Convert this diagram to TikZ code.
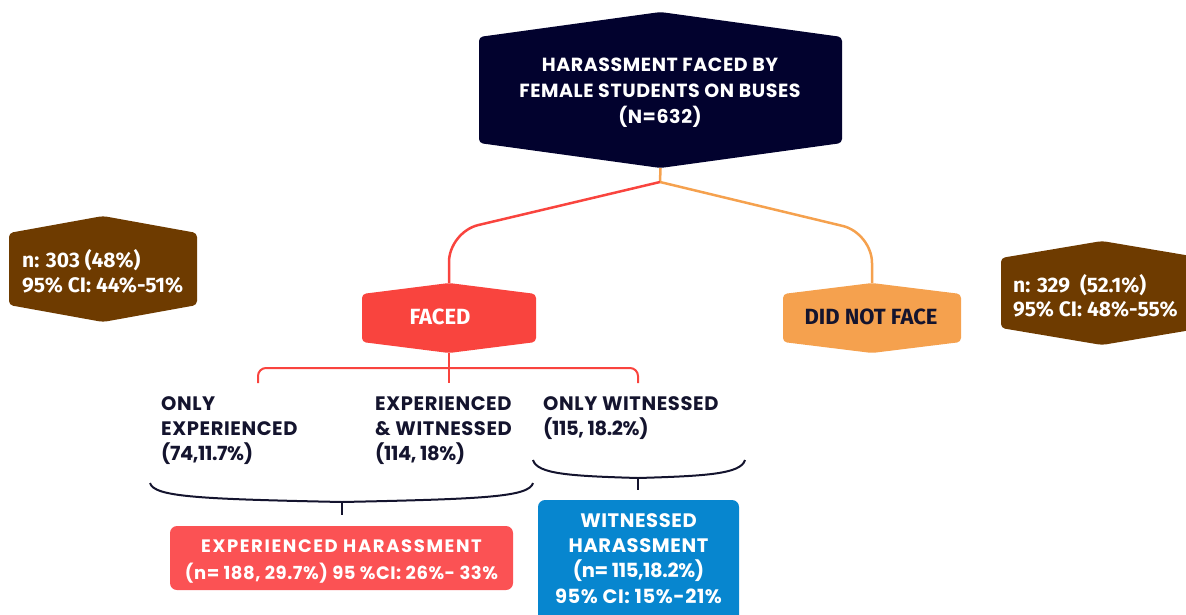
\documentclass[tikz,border=0pt]{standalone}
\usepackage{fontspec}
\setmainfont{Poppins}[LetterSpace=3]
\newfontfamily\firasans{Fira Sans}
\newcommand{\tightnum}{\addfontfeature{LetterSpace=-2}}
\definecolor{hexnavy}{HTML}{02022E}
\definecolor{inkdark}{HTML}{14142E}
\definecolor{brownbox}{HTML}{6E3B00}
\definecolor{facedred}{HTML}{F9443E}
\definecolor{orangeline}{HTML}{F5A14E}
\definecolor{witblue}{HTML}{0786CF}
\definecolor{expred}{HTML}{FB5254}
% name, x, y, half width, half side, slant, colour
\newcommand{\drawhex}[7]{%
  \fill[#7,rounded corners=4pt] (#2,#3-#5-#6) -- (#2+#4,#3-#5) -- (#2+#4,#3+#5)
    -- (#2,#3+#5+#6) -- (#2-#4,#3+#5) -- (#2-#4,#3-#5) -- cycle;
  \coordinate (#1-n) at (#2,#3-#5-#6);
  \coordinate (#1-s) at (#2,#3+#5+#6);}

\begin{document}
\begin{tikzpicture}[x=1pt,y=-1pt,
    hextext/.style={text=white,font=\bfseries\fontsize{19}{26}\selectfont,align=center,inner sep=0pt},
    stattext/.style={text=white,font=\firasans\bfseries\fontsize{21}{25.5}\selectfont,align=left,inner sep=0pt,anchor=north west},
    catlabel/.style={text=inkdark,font=\bfseries\fontsize{19.5}{25}\selectfont,align=left,inner sep=0pt,anchor=north west},
    branch/.style={line width=2.5pt,rounded corners=30pt},
    curly/.style={draw=inkdark,line width=2pt},
    resultbox/.style={rounded corners=7pt,inner sep=0pt},
    boxtext/.style={text=white,inner sep=0pt,align=center,font=\bfseries\fontsize{18}{27}\selectfont}]
  \useasboundingbox (0,0) rectangle (1186,614);

  \drawhex{top}{660.5}{90}{181.5}{53}{25}{hexnavy}
  \drawhex{faced}{449}{318}{87}{24}{11}{facedred}
  \drawhex{notface}{872}{318}{89}{24}{11}{orangeline}
  \drawhex{leftstat}{103}{269}{94}{36}{17}{brownbox}
  \drawhex{rightstat}{1102}{293}{101}{35}{17}{brownbox}

  \node[hextext,anchor=north] (title) at (660,58) {HARASSMENT FACED BY\\FEMALE STUDENTS ON BUSES\\(N=632)};
  \node[text=white,font=\firasans\bfseries\fontsize{22}{24}\selectfont,inner sep=0pt] (facedlabel) at (440,317) {FACED};
  \node[text=inkdark,font=\firasans\bfseries\fontsize{22}{24}\selectfont,inner sep=0pt] (notfacelabel) at (871,317) {DID NOT FACE};
  \node[stattext] (leftnums) at (22,249) {n: 303 (48\%)\\95\% CI: 44\%-51\%};
  \node[stattext] (rightnums) at (1013,274) {n: 329~~(52.1\%)\\[-1.5pt]95\% CI: 48\%-55\%};

  % split under the title
  \coordinate (split) at (660,182);
  \draw[branch,draw=orangeline,rounded corners=0pt] (top-s) -- (split);
  \draw[branch,draw=facedred] (split) -- (449,232) -- (faced-n);
  \draw[branch,draw=orangeline] (split) -- (872,233) -- (notface-n);

  % the three groups of FACED
  \coordinate (fork) at (449,383);
  \coordinate (onlyexp-top) at (258,383);
  \coordinate (onlywit-top) at (638,383);
  \draw[facedred,line width=2pt] (faced-s) -- (fork);
  \draw[facedred,line width=2pt,rounded corners=8pt] (onlyexp-top) -- (258,368) -- (638,368) -- (onlywit-top);

  \node[catlabel] (onlyexp) at (161,396) {ONLY\\EXPERIENCED\\{\tightnum(74,11.7\%)}};
  \node[catlabel] (expwit) at (375,396) {EXPERIENCED\\\& WITNESSED\\{\tightnum(114, 18\%)}};
  \node[catlabel] (onlywit) at (543,396) {ONLY WITNESSED\\{\tightnum(115, 18.2\%)}};

  % braces
  \coordinate (bigbrace) at (342,502);
  \draw[curly] (150,483) .. controls (154,497) and (200,499) .. (bigbrace) .. controls (484,499) and (529,497) .. (533,483);
  \draw[curly] (bigbrace) -- ++(0,13);
  \coordinate (smallbrace) at (638,478);
  \draw[curly] (533,460) .. controls (537,474) and (570,476) .. (smallbrace) .. controls (706,476) and (741,474) .. (745,460);
  \draw[curly] (smallbrace) -- ++(0,12);

  \node[resultbox,fill=expred,minimum width=343pt,minimum height=64pt] (exph) at (341.5,558) {};
  \node[boxtext] (exphtext) at ([yshift=-3pt]exph.center) {{\addfontfeature{LetterSpace=9}EXPERIENCED HARASSMENT}\\(n= 188, 29.7\%) 95 \%CI: 26\%- 33\%};
  \node[resultbox,fill=witblue,minimum width=201pt,minimum height=123pt] (withh) at (638.5,561.5) {};
  \node[boxtext,font=\bfseries\fontsize{19.5}{25.3}\selectfont] (withhtext) at ([yshift=3pt]withh.center) {WITNESSED\\HARASSMENT\\{\tightnum(n= 115,18.2\%)}\\95\% CI: 15\%-21\%};
\end{tikzpicture}
\end{document}
